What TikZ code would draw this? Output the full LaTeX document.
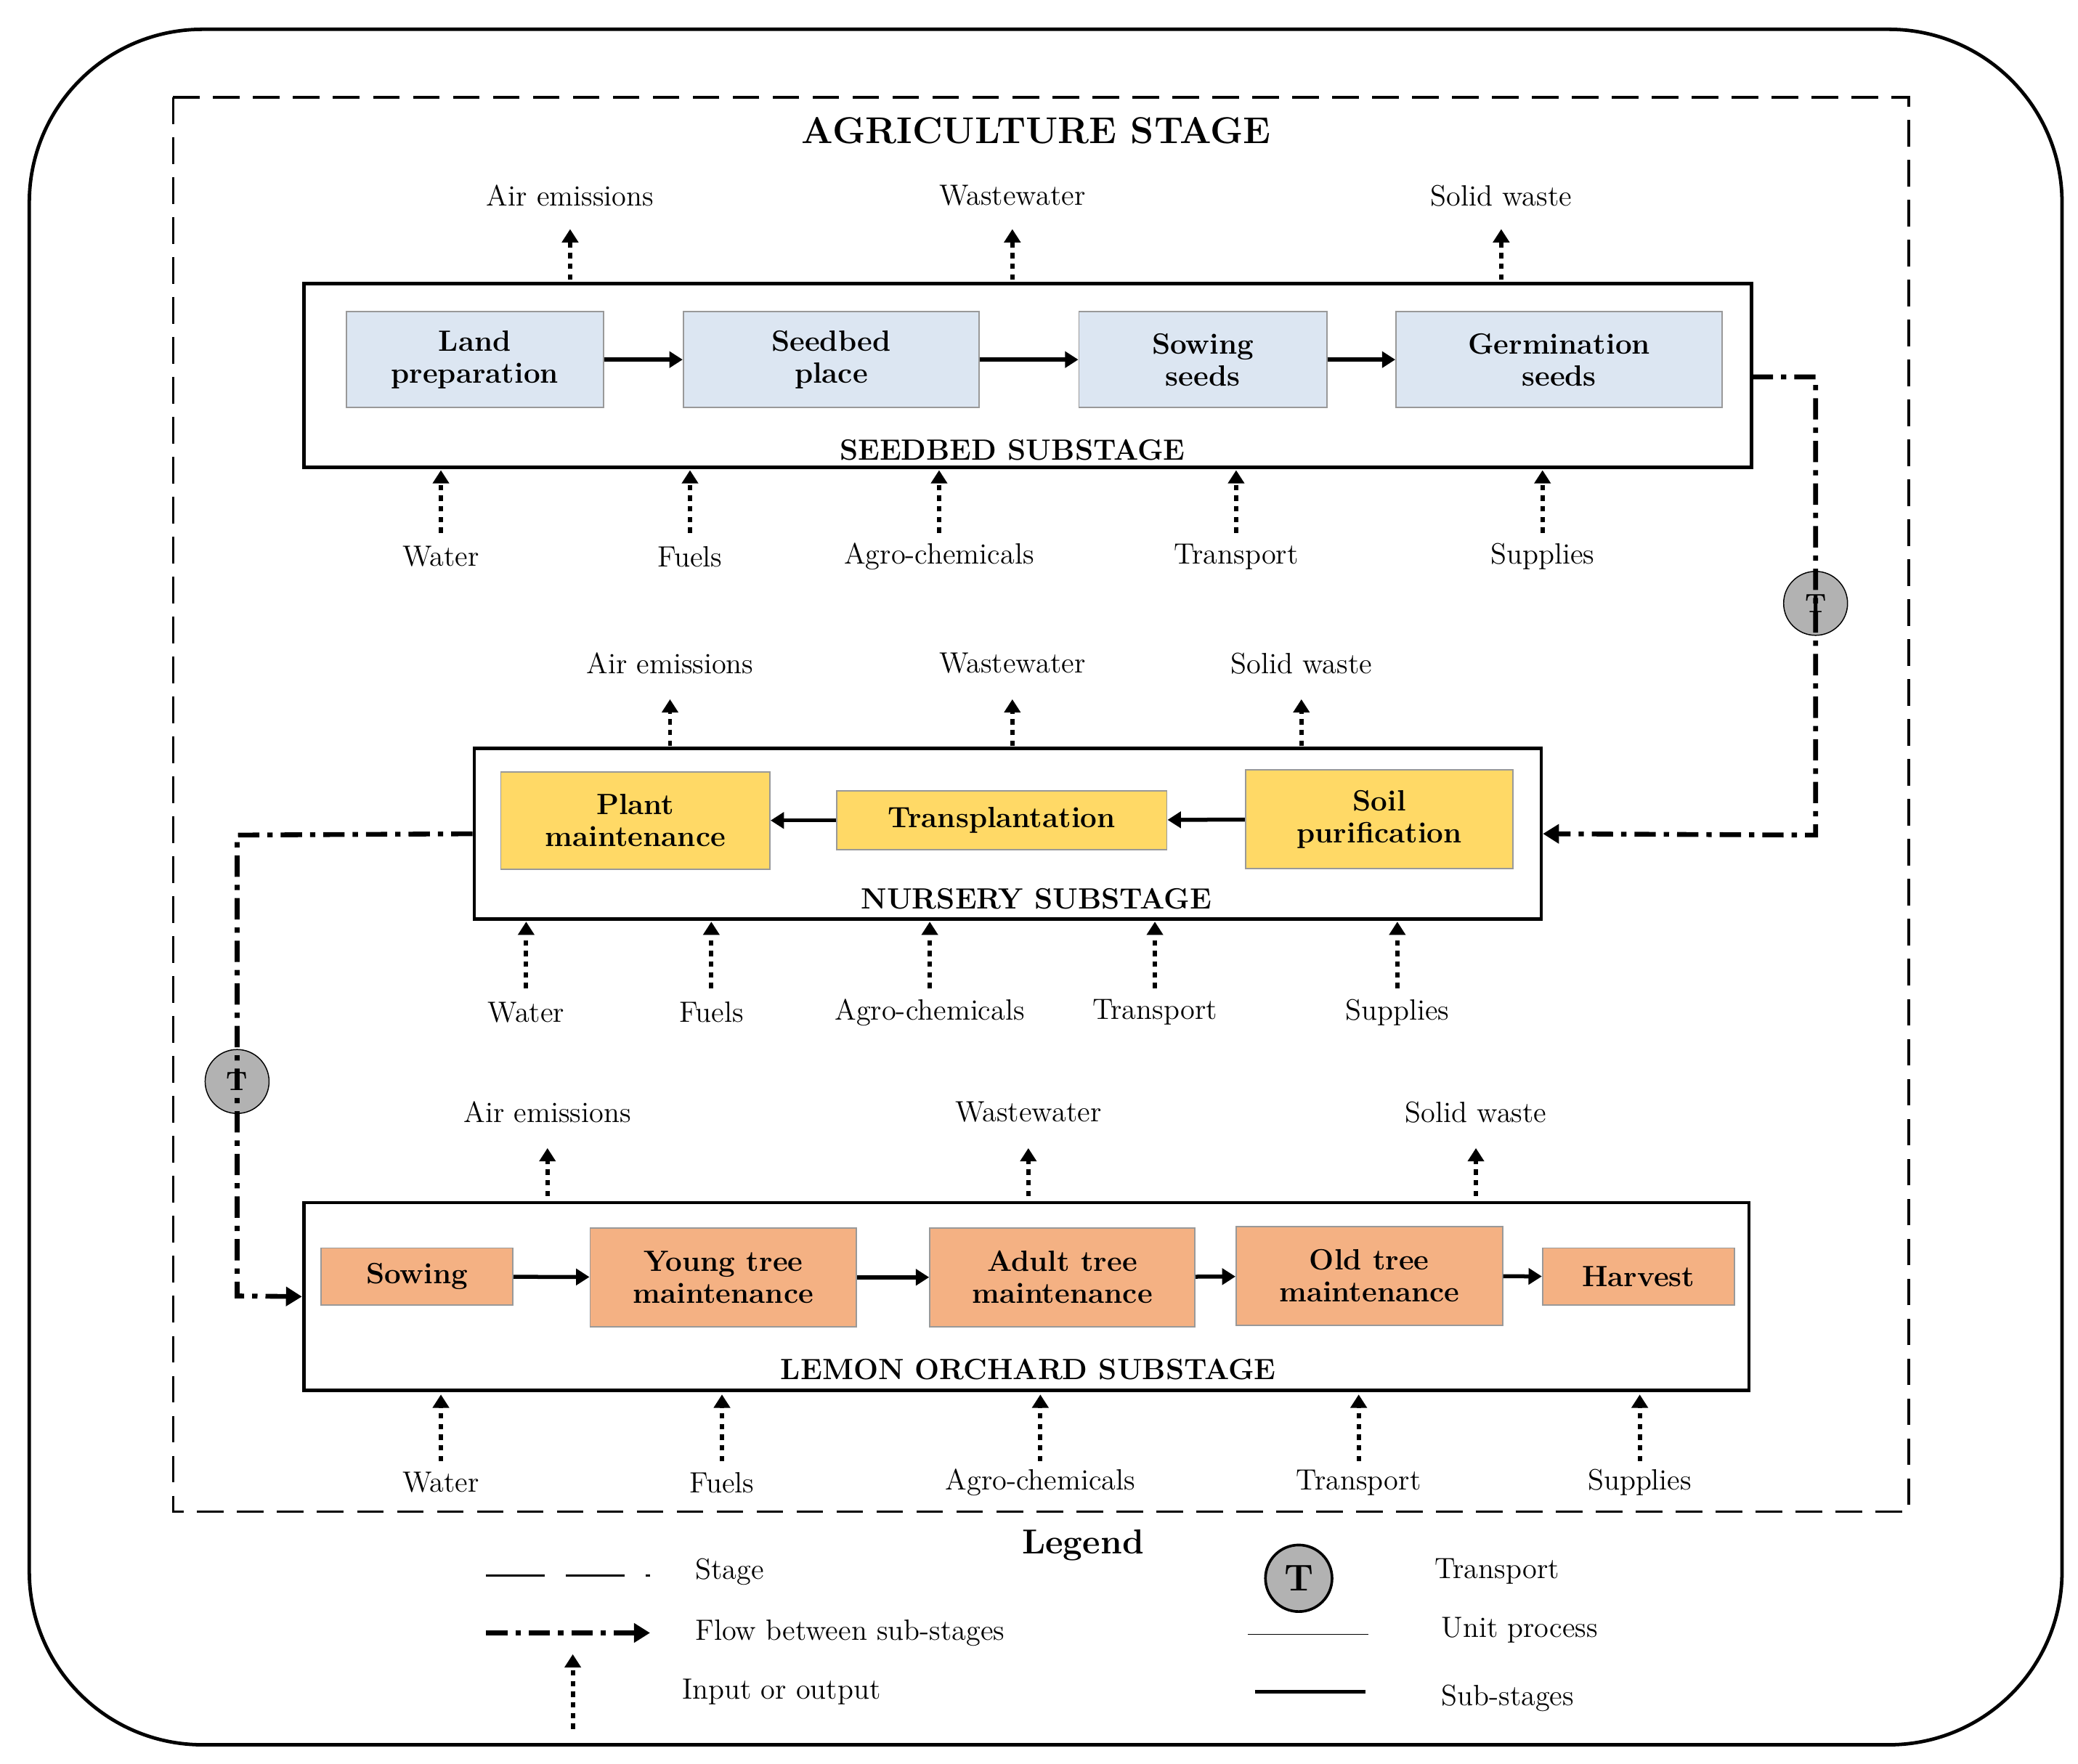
\documentclass[tikz,border=0pt]{standalone}
\usetikzlibrary{arrows.meta}
\definecolor{cblue}{HTML}{DCE6F2}
\definecolor{cyel}{HTML}{FFD966}
\definecolor{corg}{HTML}{F4B183}
\begin{document}
\begin{tikzpicture}[x=0.5pt,y=-0.5pt,
 lbl/.style={font=\fontsize{11}{12}\selectfont},
 bl/.style={font=\bfseries\fontsize{11}{12}\selectfont},
 proc/.style={draw=gray!80,line width=0.5pt,font=\bfseries\fontsize{11}{12}\selectfont,align=center,inner sep=0pt},
 sub/.style={draw,line width=1.3pt},
 io/.style={line width=1.6pt,dash pattern=on 2pt off 2pt,-{Triangle[length=5pt,width=6pt]}},
 pa/.style={line width=1.5pt,-{Triangle[length=5pt,width=6pt]}},
 flow/.style={line width=1.8pt,dash pattern=on 8pt off 3pt on 2pt off 3pt,-{Triangle[length=6pt,width=7pt]}},
 tc/.style={circle,draw,fill=gray!60,minimum size=24pt,inner sep=0pt,font=\bfseries\fontsize{10}{10}\selectfont}]
\useasboundingbox (0,0) rectangle (1560,1324);
\draw[line width=1.3pt,rounded corners=65pt] (22,22) rectangle (1548,1310);
\draw[line width=1pt,dash pattern=on 10pt off 5pt] (130,73) rectangle (1433,1135);
\node[font=\bfseries\fontsize{14}{14}\selectfont] at (778,98) {AGRICULTURE STAGE};
% seedbed
\node[sub,minimum width=543.5pt,minimum height=69pt,inner sep=0pt] (sb) at (771.5,282) {};
\node[bl] at (760,338) {SEEDBED SUBSTAGE};
\node[proc,fill=cblue,minimum width=96.5pt,minimum height=36pt] (a1) at (356.5,270) {Land\\preparation};
\node[proc,fill=cblue,minimum width=111pt,minimum height=36pt] (a2) at (624,270) {Seedbed\\place};
\node[proc,fill=cblue,minimum width=93pt,minimum height=36pt] (a3) at (903,270) {Sowing\\seeds};
\node[proc,fill=cblue,minimum width=122.5pt,minimum height=36pt] (a4) at (1170.5,270) {Germination\\seeds};
\draw[pa] (a1)--(a2); \draw[pa] (a2)--(a3); \draw[pa] (a3)--(a4);
\foreach \x/\t in {428/Air emissions,760/Wastewater,1127/Solid waste}{
 \coordinate (o) at (\x,210); \node[lbl] (l) at (\x,147) {\t}; \draw[io] (o)--(\x,172);}
\foreach \x/\t in {331/Water,518/Fuels,705/Agro-chemicals,928/Transport,1158/Supplies}{
 \node[lbl] (l) at (\x,418) {\t}; \draw[io] (\x,400)--(\x,353);}
% nursery
\node[sub,minimum width=400.5pt,minimum height=64pt,inner sep=0pt] (ns) at (756.5,626) {};
\node[bl] at (778,675) {NURSERY SUBSTAGE};
\node[proc,fill=cyel,minimum width=101pt,minimum height=36.5pt] (b1) at (477,616) {Plant\\maintenance};
\node[proc,fill=cyel,minimum width=124pt,minimum height=22pt] (b2) at (752,616) {Transplantation};
\node[proc,fill=cyel,minimum width=100.5pt,minimum height=37pt] (b3) at (1035.5,615) {Soil\\purification};
\draw[pa] (b3)--(b2); \draw[pa] (b2)--(b1);
\foreach \x/\t in {503/Air emissions,760/Wastewater,977/Solid waste}{
 \node[lbl] at (\x,498) {\t}; \draw[io] (\x,560)--(\x,525);}
\foreach \x/\t in {395/Water,534/Fuels,698/Agro-chemicals,867/Transport,1049/Supplies}{
 \node[lbl] at (\x,760) {\t}; \draw[io] (\x,742)--(\x,692);}
% orchard
\node[sub,minimum width=542.5pt,minimum height=70.5pt,inner sep=0pt] (os) at (770.5,973.5) {};
\node[bl] at (772,1028) {LEMON ORCHARD SUBSTAGE};
\node[proc,fill=corg,minimum width=72pt,minimum height=21.5pt] (c1) at (313,958.5) {Sowing};
\node[proc,fill=corg,minimum width=100pt,minimum height=37pt] (c2) at (543,959) {Young tree\\maintenance};
\node[proc,fill=corg,minimum width=99.5pt,minimum height=37pt] (c3) at (797.5,959) {Adult tree\\maintenance};
\node[proc,fill=corg,minimum width=100pt,minimum height=37pt] (c4) at (1028,958) {Old tree\\maintenance};
\node[proc,fill=corg,minimum width=72pt,minimum height=21.5pt] (c5) at (1230,958.5) {Harvest};
\draw[pa] (c1)--(c2); \draw[pa] (c2)--(c3); \draw[pa] (c3)--(c4); \draw[pa] (c4)--(c5);
\foreach \x/\t in {411/Air emissions,772/Wastewater,1108/Solid waste}{
 \node[lbl] at (\x,835) {\t}; \draw[io] (\x,898)--(\x,862);}
\foreach \x/\t in {331/Water,542/Fuels,781/Agro-chemicals,1020/Transport,1231/Supplies}{
 \node[lbl] at (\x,1113) {\t}; \draw[io] (\x,1097)--(\x,1047);}
% flows
\node[tc] (t1) at (1363,453) {T};
\node[tc] (t2) at (178,812) {T};
\draw[flow] (1315,283) -- (1363,283) -- (1363,627) -- (ns.east);
\draw[flow] (ns.west) -- (178,627) -- (178,973) -- (os.west);
% legend
\node[font=\bfseries\fontsize{13}{13}\selectfont] at (813,1160) {Legend};
\draw[line width=1pt,dash pattern=on 22pt off 8pt] (365,1183) -- (488,1183);
\node[lbl,anchor=west] at (515,1180) {Stage};
\draw[flow] (365,1226) -- (488,1226);
\node[lbl,anchor=west] at (515,1226) {Flow between sub-stages};
\draw[io] (430,1298) -- (430,1242);
\node[lbl,anchor=west] at (505,1270) {Input or output};
\node[tc,minimum size=25pt,font=\bfseries\fontsize{14}{14}\selectfont,line width=1pt] at (975,1185) {T};
\node[lbl,anchor=west] at (1070,1180) {Transport};
\draw[line width=0.4pt] (937,1227) -- (1027,1227);
\node[lbl,anchor=west] at (1075,1224) {Unit process};
\draw[line width=1.4pt] (942,1270) -- (1025,1270);
\node[lbl,anchor=west] at (1075,1275) {Sub-stages};
\end{tikzpicture}
\end{document}
